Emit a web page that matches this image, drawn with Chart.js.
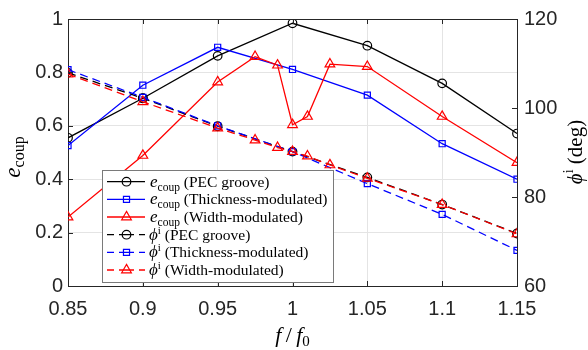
<!DOCTYPE html>
<html>
<head>
<meta charset="utf-8">
<script src="https://cdn.jsdelivr.net/npm/chart.js@4.4.1/dist/chart.umd.min.js"></script>
<style>
  html, body { margin: 0; padding: 0; background: #ffffff; }
  #wrap { width: 588px; height: 350px; position: relative; }
</style>
</head>
<body>
<div id="wrap"><canvas id="c" width="588" height="350"></canvas></div>
<script>
// Normalised frequency samples f/f0
const freq = [0.85, 0.90, 0.95, 1.00, 1.05, 1.10, 1.15];
const freqWidth = [0.85, 0.90, 0.95, 0.975, 0.99, 1.00, 1.01, 1.025, 1.05, 1.10, 1.15];

// Coupling efficiency e_coup (left axis)
const ecoupPec = [0.555, 0.703, 0.862, 0.984, 0.900, 0.759, 0.571];
const ecoupThick = [0.526, 0.752, 0.894, 0.811, 0.715, 0.533, 0.400];
const ecoupWidth = [0.258, 0.489, 0.764, 0.859, 0.827, 0.604, 0.635, 0.831, 0.822, 0.635, 0.462];

// Incidence angle phi^i in degrees (right axis)
const phiPec = [107.9, 102.2, 95.9, 90.2, 84.4, 78.3, 71.8];
const phiThick = [108.6, 102.4, 96.0, 90.2, 83.0, 76.1, 68.0];
const phiWidth = [107.6, 101.4, 95.5, 92.8, 91.1, 90.2, 89.2, 87.2, 84.2, 78.3, 71.7];

// Tick values
const xTicks = [0.85, 0.90, 0.95, 1.00, 1.05, 1.10, 1.15];
const yTicks = [0, 0.2, 0.4, 0.6, 0.8, 1];
const y1Ticks = [60, 80, 100, 120];

// Legend captions
const variants = ['PEC groove', 'Thickness-modulated', 'Width-modulated'];

const BLACK = '#000000', BLUE = '#0000ff', RED = '#ff0000';
const AXIS = '#262626';
const SANS = '"Liberation Sans", Arial, Helvetica, sans-serif';
const SERIF = '"Liberation Serif", "Times New Roman", "DejaVu Serif", serif';

const series = [
  { xs: freq, ys: ecoupPec, color: BLACK, style: 'circle', dashed: false, axis: 'y', kind: 'e', name: variants[0] },
  { xs: freq, ys: ecoupThick, color: BLUE, style: 'rect', dashed: false, axis: 'y', kind: 'e', name: variants[1] },
  { xs: freqWidth, ys: ecoupWidth, color: RED, style: 'triangle', dashed: false, axis: 'y', kind: 'e', name: variants[2] },
  { xs: freq, ys: phiPec, color: BLACK, style: 'circle', dashed: true, axis: 'y1', kind: 'phi', name: variants[0] },
  { xs: freq, ys: phiThick, color: BLUE, style: 'rect', dashed: true, axis: 'y1', kind: 'phi', name: variants[1] },
  { xs: freqWidth, ys: phiWidth, color: RED, style: 'triangle', dashed: true, axis: 'y1', kind: 'phi', name: variants[2] }
];

const radius = { circle: 4.3, rect: 4.3, triangle: 5.6 };

const datasets = series.map((s, i) => ({
  label: s.kind + ' ' + s.name,
  data: s.xs.map((x, k) => ({ x: x, y: s.ys[k] })),
  borderColor: s.color,
  borderWidth: 1.3,
  borderDash: s.dashed ? [8, 5] : [],
  pointStyle: s.style,
  pointRadius: radius[s.style],
  pointHoverRadius: radius[s.style],
  pointBorderColor: s.color,
  pointBackgroundColor: 'rgba(0,0,0,0)',
  pointBorderWidth: 1.2,
  fill: false,
  tension: 0,
  yAxisID: s.axis,
  order: series.length - i
}));

// Draw a run of text pieces (with sub/superscripts) one after another
function drawRuns(ctx, parts, x, y, align) {
  let total = 0;
  parts.forEach(p => { ctx.font = p.font; p.w = ctx.measureText(p.text).width; total += p.w; });
  let cx = align === 'center' ? x - total / 2 : x;
  ctx.textAlign = 'left';
  ctx.textBaseline = 'alphabetic';
  parts.forEach(p => {
    ctx.font = p.font;
    ctx.fillText(p.text, cx, y + (p.dy || 0));
    cx += p.w;
  });
}

function drawMarker(ctx, style, x, y, color) {
  ctx.save();
  ctx.strokeStyle = color;
  ctx.lineWidth = 1.2;
  ctx.setLineDash([]);
  ctx.beginPath();
  if (style === 'circle') {
    ctx.arc(x, y, radius.circle, 0, Math.PI * 2);
  } else if (style === 'rect') {
    const h = radius.rect * Math.SQRT1_2;
    ctx.rect(x - h, y - h, 2 * h, 2 * h);
  } else {
    const r = radius.triangle;
    ctx.moveTo(x, y - r);
    ctx.lineTo(x + r * 0.866, y + r * 0.5);
    ctx.lineTo(x - r * 0.866, y + r * 0.5);
    ctx.closePath();
  }
  ctx.stroke();
  ctx.restore();
}

const decorations = {
  id: 'decorations',
  afterDraw(chart) {
    const ctx = chart.ctx;
    const a = chart.chartArea;
    const xs = chart.scales.x, ys = chart.scales.y, y1s = chart.scales.y1;
    ctx.save();

    // Box: top edge
    ctx.strokeStyle = AXIS;
    ctx.lineWidth = 1;
    ctx.setLineDash([]);
    ctx.beginPath();
    ctx.moveTo(a.left, Math.round(a.top) + 0.5);
    ctx.lineTo(a.right, Math.round(a.top) + 0.5);
    ctx.stroke();

    // Inward tick marks
    const tl = 5;
    ctx.beginPath();
    xTicks.forEach(v => {
      const px = Math.round(xs.getPixelForValue(v)) + 0.5;
      ctx.moveTo(px, a.bottom); ctx.lineTo(px, a.bottom - tl);
      ctx.moveTo(px, a.top); ctx.lineTo(px, a.top + tl);
    });
    yTicks.forEach(v => {
      const py = Math.round(ys.getPixelForValue(v)) + 0.5;
      ctx.moveTo(a.left, py); ctx.lineTo(a.left + tl, py);
    });
    y1Ticks.forEach(v => {
      const py = Math.round(y1s.getPixelForValue(v)) + 0.5;
      ctx.moveTo(a.right, py); ctx.lineTo(a.right - tl, py);
    });
    ctx.stroke();

    ctx.fillStyle = '#000000';

    // x-axis title: f / f0
    drawRuns(ctx, [
      { text: 'f', font: 'italic 22px ' + SERIF },
      { text: '\u2009/\u2009', font: '22px ' + SERIF },
      { text: 'f', font: 'italic 22px ' + SERIF },
      { text: '0', font: '15px ' + SERIF, dy: 4 }
    ], (a.left + a.right) / 2, 342, 'center');

    // left axis title: e_coup
    ctx.save();
    ctx.translate(20, 157);
    ctx.rotate(-Math.PI / 2);
    drawRuns(ctx, [
      { text: 'e', font: 'italic 23px ' + SERIF },
      { text: 'coup', font: '16px ' + SERIF, dy: 4 }
    ], 0, 0, 'center');
    ctx.restore();

    // right axis title: phi^i (deg)
    ctx.save();
    ctx.translate(582, 152);
    ctx.rotate(-Math.PI / 2);
    drawRuns(ctx, [
      { text: '\u03D5', font: 'italic 21px ' + SERIF },
      { text: 'i', font: '14px ' + SERIF, dy: -9 },
      { text: ' (deg)', font: '21px ' + SERIF }
    ], 0, 0, 'center');
    ctx.restore();

    // Legend
    const bx = 102.5, by = 170.5, bw = 231, bh = 112;
    ctx.fillStyle = '#ffffff';
    ctx.fillRect(bx, by, bw, bh);
    ctx.strokeStyle = '#7a7a7a';
    ctx.lineWidth = 1;
    ctx.strokeRect(bx, by, bw, bh);

    const rowH = 17.66;
    series.forEach((s, i) => {
      const cy = 181.7 + i * rowH;
      ctx.strokeStyle = s.color;
      ctx.lineWidth = 1.3;
      ctx.setLineDash([]);
      ctx.beginPath();
      if (s.dashed) {
        ctx.moveTo(107, cy); ctx.lineTo(114, cy);
        ctx.moveTo(119, cy); ctx.lineTo(134, cy);
        ctx.moveTo(139, cy); ctx.lineTo(145, cy);
      } else {
        ctx.moveTo(107, cy); ctx.lineTo(145, cy);
      }
      ctx.stroke();
      drawMarker(ctx, s.style, 126.5, cy, s.color);

      ctx.fillStyle = '#000000';
      const base = cy + 5;
      if (s.kind === 'e') {
        drawRuns(ctx, [
          { text: 'e', font: 'italic 17px ' + SERIF },
          { text: 'coup', font: '11.5px ' + SERIF, dy: 4 },
          { text: ' (' + s.name + ')', font: '15.5px ' + SERIF }
        ], 150, base, 'left');
      } else {
        drawRuns(ctx, [
          { text: '\u03D5', font: 'italic 17px ' + SERIF },
          { text: 'i', font: '11px ' + SERIF, dy: -6 },
          { text: ' (' + s.name + ')', font: '15.5px ' + SERIF }
        ], 149, base, 'left');
      }
    });

    ctx.restore();
  }
};

function fixTicks(values) {
  return scale => { scale.ticks = values.map(v => ({ value: v })); };
}

new Chart(document.getElementById('c'), {
  type: 'line',
  data: { datasets: datasets },
  options: {
    responsive: false,
    animation: false,
    devicePixelRatio: 1,
    layout: { padding: { top: 15, left: 0, right: 0, bottom: 0 } },
    plugins: { legend: { display: false }, tooltip: { enabled: false } },
    scales: {
      x: {
        type: 'linear',
        min: 0.85, max: 1.15,
        afterBuildTicks: fixTicks(xTicks),
        afterFit: s => { s.height = 64; },
        grid: { color: '#e4e4e4', drawTicks: false, lineWidth: 1 },
        border: { display: true, color: AXIS, width: 1 },
        ticks: {
          color: AXIS, padding: 11, maxRotation: 0, autoSkip: false,
          font: { family: SANS, size: 20 },
          callback: v => String(Number(v.toFixed(2)))
        }
      },
      y: {
        type: 'linear', position: 'left',
        min: 0, max: 1,
        afterBuildTicks: fixTicks(yTicks),
        afterFit: s => { s.width = 68; },
        grid: { color: '#e4e4e4', drawTicks: false, lineWidth: 1 },
        border: { display: true, color: AXIS, width: 1 },
        ticks: {
          color: AXIS, padding: 5, autoSkip: false,
          font: { family: SANS, size: 20 },
          callback: v => String(Number(v.toFixed(1)))
        }
      },
      y1: {
        type: 'linear', position: 'right',
        min: 60, max: 120,
        afterBuildTicks: fixTicks(y1Ticks),
        afterFit: s => { s.width = 71; },
        grid: { drawOnChartArea: false, drawTicks: false },
        border: { display: true, color: AXIS, width: 1 },
        ticks: {
          color: AXIS, padding: 7, autoSkip: false,
          font: { family: SANS, size: 20 },
          callback: v => String(v)
        }
      }
    }
  },
  plugins: [decorations]
});
</script>
</body>
</html>
